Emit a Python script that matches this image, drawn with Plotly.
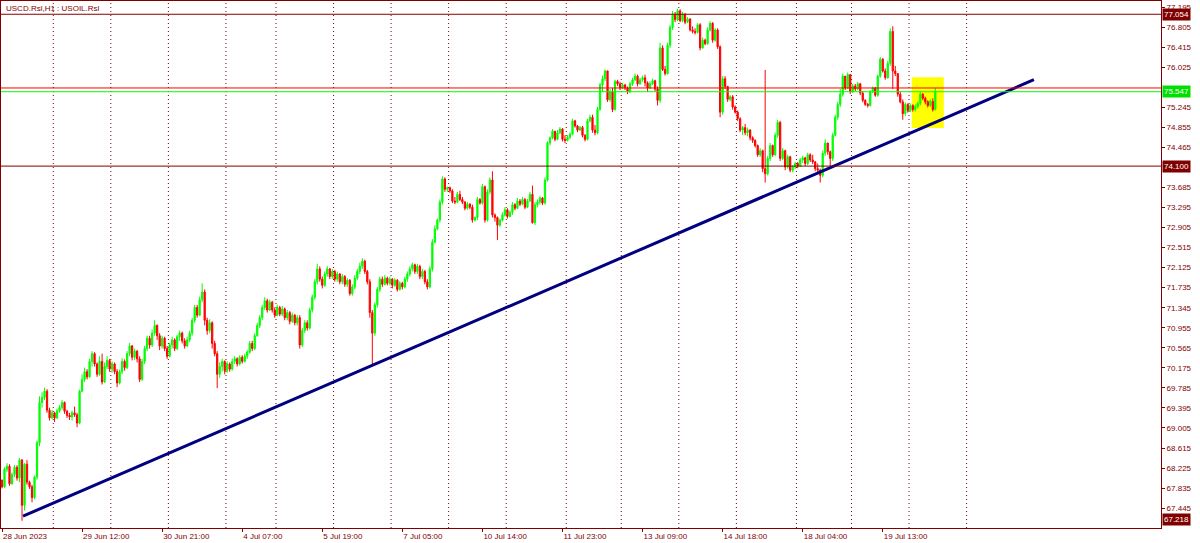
import plotly.graph_objects as go

# ---------------- data ----------------
first_open = 67.99
closes = [
    67.86, 68.20, 68.26, 67.92, 68.10, 68.24, 68.03, 68.38, 67.50, 68.30,
    67.95, 67.86, 67.65, 68.05, 68.72, 69.50, 69.60, 69.72, 69.35, 69.20,
    69.30, 69.20, 69.34, 69.40, 69.50, 69.33, 69.25, 69.22, 69.30, 69.26,
    69.10, 69.72, 69.95, 70.10, 70.00, 70.30, 70.45, 70.25, 70.05, 70.30,
    69.90, 70.20, 70.32, 70.15, 70.25, 70.10, 69.88, 70.10, 70.30, 70.18,
    70.45, 70.60, 70.38, 70.50, 70.35, 69.95, 70.30, 70.55, 70.75, 70.62,
    70.85, 71.00, 70.80, 70.60, 70.75, 70.55, 70.40, 70.62, 70.72, 70.55,
    70.78, 70.85, 70.70, 70.60, 70.72, 70.85, 71.10, 71.35, 71.20, 71.50,
    71.65, 71.10, 70.90, 71.05, 70.65, 70.45, 70.05, 70.20, 70.30, 70.12,
    70.25, 70.15, 70.30, 70.35, 70.25, 70.38, 70.30, 70.40, 70.48, 70.65,
    70.55, 70.80, 71.00, 71.15, 71.35, 71.48, 71.30, 71.45, 71.30, 71.20,
    71.35, 71.22, 71.32, 71.15, 71.25, 71.08, 71.20, 71.05, 71.15, 70.62,
    70.90, 71.05, 70.95, 71.30, 71.55, 71.85, 72.10, 71.90, 71.78, 72.00,
    72.10, 71.95, 72.05, 71.90, 72.00, 71.85, 71.95, 71.80, 71.88, 71.62,
    71.75, 71.92, 72.05, 72.15, 72.25, 72.05, 71.85, 71.25, 70.85, 71.40,
    71.70, 71.90, 71.80, 71.92, 71.82, 71.90, 71.78, 71.88, 71.70, 71.82,
    71.75, 71.90, 72.00, 72.10, 72.18, 72.05, 72.15, 71.95, 72.05, 71.85,
    71.75, 72.10, 72.62, 72.88, 73.05, 73.40, 73.85, 73.65, 73.68, 73.62,
    73.42, 73.40, 73.55, 73.45, 73.40, 73.28, 73.36, 73.30, 73.05, 73.10,
    73.45, 73.38, 73.70, 73.05, 73.60, 73.83, 73.15, 73.10, 72.95, 73.05,
    73.15, 73.25, 73.12, 73.20, 73.35, 73.28, 73.42, 73.36, 73.45, 73.30,
    73.42, 73.55, 73.00, 73.35, 73.40, 73.48, 73.38, 73.83, 74.55, 74.65,
    74.78, 74.62, 74.75, 74.82, 74.62, 74.60, 74.66, 74.72, 74.98, 74.88,
    74.80, 74.85, 74.70, 74.62, 74.98, 75.05, 74.80, 74.75, 75.20, 75.68,
    75.80, 75.95, 75.39, 75.55, 75.20, 75.75, 75.70, 75.62, 75.68, 75.62,
    75.55, 75.70, 75.78, 75.85, 75.70, 75.78, 75.82, 75.72, 75.62, 75.70,
    75.76, 75.60, 75.38, 76.40, 75.98, 75.90, 76.45, 76.80, 77.05, 76.95,
    77.12, 76.93, 77.05, 76.90, 76.96, 76.75, 76.72, 76.70, 76.85, 76.40,
    76.55, 76.48, 76.75, 76.88, 76.55, 76.75, 76.42, 75.15, 75.80, 75.65,
    75.40, 75.45, 75.25, 75.15, 75.02, 74.80, 74.85, 74.75, 74.80, 74.65,
    74.60, 74.50, 74.32, 74.40, 74.05, 73.95, 74.25, 74.50, 74.32, 74.70,
    74.95, 74.25, 74.40, 74.08, 74.28, 74.02, 74.08, 74.15, 74.10, 74.22,
    74.26, 74.15, 74.32, 74.22, 74.18, 74.05, 74.02, 73.92, 74.35, 74.55,
    74.38, 74.25, 74.70, 75.05, 75.30, 75.50, 75.85, 75.62, 75.88, 75.55,
    75.66, 75.60, 75.70, 75.52, 75.38, 75.30, 75.28, 75.55, 75.62, 75.48,
    75.85, 76.18, 75.95, 75.82, 76.10, 76.72, 75.95, 75.90, 75.50, 75.35,
    75.12, 75.30, 75.18, 75.28, 75.20, 75.26, 75.32, 75.50, 75.42, 75.35,
    75.28, 75.36, 75.20, 75.547,
]
highs = [
    68.00, 68.24, 68.32, 68.30, 68.14, 68.28, 68.28, 68.42, 68.40, 68.32,
    68.38, 67.98, 67.90, 68.08, 68.76, 69.62, 69.70, 69.79, 69.76, 69.40,
    69.36, 69.32, 69.38, 69.45, 69.55, 69.52, 69.36, 69.30, 69.34, 69.42,
    69.30, 69.75, 70.05, 70.18, 70.15, 70.35, 70.50, 70.48, 70.28, 70.40,
    70.45, 70.28, 70.40, 70.35, 70.30, 70.28, 70.15, 70.14, 70.36, 70.34,
    70.50, 70.66, 70.62, 70.55, 70.52, 70.40, 70.35, 70.60, 70.80, 70.80,
    70.92, 71.10, 71.02, 70.85, 70.80, 70.78, 70.60, 70.66, 70.78, 70.75,
    70.82, 70.90, 70.88, 70.75, 70.78, 70.90, 71.15, 71.40, 71.40, 71.56,
    71.82, 71.70, 71.15, 71.12, 71.08, 70.70, 70.50, 70.28, 70.35, 70.32,
    70.30, 70.28, 70.36, 70.40, 70.38, 70.42, 70.42, 70.45, 70.52, 70.70,
    70.70, 70.85, 71.05, 71.20, 71.40, 71.55, 71.52, 71.50, 71.48, 71.35,
    71.40, 71.38, 71.38, 71.35, 71.30, 71.28, 71.25, 71.22, 71.20, 71.20,
    70.95, 71.10, 71.10, 71.35, 71.60, 71.90, 72.20, 72.15, 71.95, 72.05,
    72.15, 72.12, 72.10, 72.08, 72.05, 72.02, 72.00, 71.98, 71.92, 71.90,
    71.80, 71.98, 72.10, 72.22, 72.31, 72.28, 72.08, 71.90, 71.30, 71.45,
    71.75, 71.95, 71.95, 71.98, 71.95, 71.95, 71.92, 71.92, 71.90, 71.86,
    71.85, 71.95, 72.05, 72.15, 72.22, 72.20, 72.20, 72.18, 72.10, 72.08,
    71.90, 72.15, 72.68, 72.95, 73.08, 73.45, 73.90, 73.88, 73.70, 73.70,
    73.65, 73.50, 73.60, 73.62, 73.50, 73.42, 73.40, 73.38, 73.35, 73.12,
    73.50, 73.48, 73.75, 73.72, 73.65, 73.88, 74.00, 73.18, 73.12, 73.08,
    73.20, 73.30, 73.28, 73.24, 73.40, 73.38, 73.48, 73.46, 73.50, 73.48,
    73.46, 73.60, 73.72, 73.40, 73.45, 73.52, 73.50, 73.88, 74.58, 74.68,
    74.82, 74.78, 74.80, 74.86, 74.84, 74.70, 74.70, 74.76, 75.02, 75.00,
    74.90, 74.88, 74.88, 74.72, 75.02, 75.10, 75.10, 74.90, 75.25, 75.72,
    75.86, 75.98, 75.96, 75.60, 75.62, 75.78, 75.78, 75.74, 75.72, 75.70,
    75.65, 75.74, 75.82, 75.90, 75.88, 75.82, 75.86, 75.88, 75.75, 75.75,
    75.80, 75.78, 75.65, 76.50, 76.45, 76.05, 76.50, 76.85, 77.12, 77.10,
    77.16, 77.15, 77.10, 77.08, 77.00, 76.98, 76.82, 76.78, 76.88, 76.88,
    76.60, 76.58, 76.80, 76.92, 76.90, 76.78, 76.78, 76.45, 75.85, 75.85,
    75.66, 75.48, 75.48, 75.28, 75.18, 75.05, 74.88, 74.92, 74.85, 74.82,
    74.68, 74.62, 74.52, 74.45, 74.42, 75.97, 74.30, 74.55, 74.52, 74.75,
    75.00, 74.98, 74.45, 74.42, 74.32, 74.30, 74.12, 74.18, 74.18, 74.26,
    74.30, 74.28, 74.36, 74.35, 74.32, 74.20, 74.15, 74.05, 74.40, 74.62,
    74.55, 74.40, 74.75, 75.10, 75.35, 75.60, 75.90, 75.85, 75.92, 75.88,
    75.70, 75.70, 75.74, 75.72, 75.56, 75.40, 75.33, 75.58, 75.65, 75.64,
    75.88, 76.22, 76.20, 76.00, 76.15, 76.78, 76.82, 76.05, 75.90, 75.55,
    75.40, 75.34, 75.32, 75.32, 75.30, 75.30, 75.36, 75.55, 75.52, 75.45,
    75.38, 75.40, 75.42, 75.62,
]
lows = [
    67.83, 67.84, 68.15, 67.88, 67.90, 68.05, 67.98, 67.95, 67.20, 67.40,
    67.90, 67.82, 67.56, 67.62, 68.00, 68.65, 69.40, 69.55, 69.30, 69.15,
    69.18, 69.12, 69.18, 69.30, 69.36, 69.28, 69.20, 69.16, 69.15, 69.22,
    69.02, 69.08, 69.70, 69.90, 69.95, 69.98, 70.20, 70.20, 70.00, 70.02,
    69.85, 69.88, 70.15, 70.10, 70.08, 70.05, 69.80, 69.85, 70.05, 70.12,
    70.15, 70.40, 70.32, 70.33, 70.28, 69.90, 69.92, 70.25, 70.50, 70.55,
    70.58, 70.80, 70.72, 70.52, 70.55, 70.50, 70.35, 70.38, 70.55, 70.50,
    70.52, 70.70, 70.65, 70.55, 70.58, 70.68, 70.80, 71.05, 71.15, 71.18,
    71.45, 71.00, 70.82, 70.85, 70.55, 70.40, 69.78, 69.98, 70.10, 70.05,
    70.08, 70.10, 70.12, 70.25, 70.20, 70.22, 70.26, 70.28, 70.35, 70.45,
    70.50, 70.52, 70.78, 70.95, 71.10, 71.30, 71.25, 71.28, 71.25, 71.15,
    71.18, 71.18, 71.18, 71.10, 71.10, 71.02, 71.05, 71.00, 71.00, 70.55,
    70.58, 70.85, 70.90, 70.92, 71.25, 71.50, 71.80, 71.85, 71.72, 71.75,
    71.95, 71.90, 71.90, 71.85, 71.85, 71.80, 71.80, 71.75, 71.75, 71.58,
    71.58, 71.70, 71.88, 72.00, 72.10, 72.00, 71.80, 71.15, 70.23, 70.80,
    71.35, 71.65, 71.75, 71.78, 71.78, 71.78, 71.72, 71.75, 71.66, 71.68,
    71.70, 71.72, 71.85, 71.95, 72.05, 72.00, 72.00, 71.90, 71.90, 71.80,
    71.70, 71.72, 72.05, 72.60, 72.85, 73.00, 73.35, 73.60, 73.60, 73.58,
    73.38, 73.36, 73.38, 73.42, 73.36, 73.24, 73.25, 73.26, 73.00, 73.02,
    73.05, 73.35, 73.35, 73.00, 73.02, 73.55, 73.10, 73.02, 72.66, 72.92,
    73.02, 73.12, 73.08, 73.10, 73.15, 73.24, 73.26, 73.32, 73.34, 73.26,
    73.28, 73.40, 72.98, 72.95, 73.30, 73.35, 73.34, 73.35, 73.80, 74.50,
    74.62, 74.58, 74.60, 74.72, 74.58, 74.55, 74.58, 74.62, 74.70, 74.85,
    74.76, 74.78, 74.66, 74.58, 74.60, 74.95, 74.75, 74.70, 74.72, 75.18,
    75.55, 75.75, 75.35, 75.35, 75.15, 75.18, 75.66, 75.58, 75.60, 75.58,
    75.50, 75.52, 75.66, 75.75, 75.65, 75.68, 75.74, 75.65, 75.55, 75.60,
    75.68, 75.55, 75.28, 75.33, 75.95, 75.86, 75.88, 76.40, 76.75, 76.90,
    76.92, 76.90, 76.90, 76.86, 76.88, 76.72, 76.68, 76.66, 76.68, 76.35,
    76.38, 76.45, 76.46, 76.72, 76.50, 76.52, 76.38, 75.05, 75.10, 75.60,
    75.35, 75.36, 75.20, 75.12, 74.98, 74.76, 74.70, 74.70, 74.68, 74.60,
    74.55, 74.46, 74.28, 74.28, 73.98, 73.78, 73.92, 74.20, 74.28, 74.30,
    74.65, 74.20, 74.22, 74.02, 74.05, 73.98, 73.98, 74.04, 74.06, 74.08,
    74.16, 74.10, 74.12, 74.18, 74.14, 74.00, 73.95, 73.78, 73.88, 74.30,
    74.32, 74.05, 74.20, 74.68, 75.00, 75.25, 75.45, 75.58, 75.60, 75.50,
    75.52, 75.56, 75.58, 75.48, 75.34, 75.27, 75.24, 75.26, 75.52, 75.45,
    75.45, 75.82, 75.92, 75.78, 75.80, 76.05, 75.60, 75.85, 75.45, 75.32,
    75.00, 75.08, 75.14, 75.15, 75.16, 75.16, 75.22, 75.28, 75.38, 75.30,
    75.24, 75.25, 75.16, 75.18,
]

# time-axis labels (H1 bars), placed every 32 bars
time_tick_bars = [0, 32, 64, 96, 128, 160, 192, 224, 256, 288, 320, 352]
time_tick_labels = ["28 Jun 2023", "29 Jun 12:00", "30 Jun 21:00", "4 Jul 07:00",
                    "5 Jul 19:00", "7 Jul 05:00", "10 Jul 14:00", "11 Jul 23:00",
                    "13 Jul 09:00", "14 Jul 18:00", "18 Jul 04:00", "19 Jul 13:00"]
# first bar of every trading day (period separators)
day_start_bars = [21, 44, 67, 90, 110, 133, 156, 179, 202, 226, 248, 271, 294, 318, 340, 363, 386]

# price scale labels (the ones hidden under the price boxes are left out)
price_ticks = [67.445, 67.835, 68.225, 68.615, 69.005, 69.395, 69.785, 70.175, 70.565,
               70.955, 71.345, 71.735, 72.125, 72.515, 72.905, 73.295, 73.685,
               74.465, 74.855, 75.245, 76.025, 76.415, 76.805, 77.195]

level_high = 77.054
level_support = 74.100
level_low = 67.218
bid_price = 75.547
ask_price = 75.62

trend_x = [8.4, 412.4]
trend_y = [67.29, 75.78]

box_x = [363.6, 376.4]
box_y = [74.84, 75.83]

title_text = "USCD.Rsl,H1 : USOIL.Rsl"

# ---------------- figure ----------------
n = min(len(closes), len(highs), len(lows))
closes, highs, lows = closes[:n], highs[:n], lows[:n]
opens = [first_open] + closes[:-1]
bars = list(range(n))

MAROON = "#800000"
FONT = "Liberation Sans"

fig = go.Figure()
fig.add_trace(go.Candlestick(
    x=bars, open=opens, high=highs, low=lows, close=closes,
    increasing=dict(line=dict(color="#00ff00", width=1), fillcolor="#00ff00"),
    decreasing=dict(line=dict(color="#ff0000", width=1), fillcolor="#ff0000"),
    whiskerwidth=0, hoverinfo="skip", showlegend=False,
))
fig.add_trace(go.Scatter(
    x=trend_x, y=trend_y, mode="lines",
    line=dict(color="#000080", width=3), hoverinfo="skip", showlegend=False,
))

shapes = []
shapes.append(dict(type="rect", xref="x", yref="y", x0=box_x[0], x1=box_x[1],
                   y0=box_y[0], y1=box_y[1], fillcolor="#ffff00",
                   line=dict(width=0), layer="below"))
for b in day_start_bars:
    shapes.append(dict(type="line", xref="x", yref="paper", x0=b - 0.5, x1=b - 0.5,
                       y0=0, y1=1, line=dict(color=MAROON, width=1, dash="1px,3px"),
                       layer="below"))
for lvl, col in [(level_high, MAROON), (level_support, MAROON),
                 (ask_price, "#ff0000"), (bid_price, "#00ff00")]:
    shapes.append(dict(type="line", xref="paper", yref="y", x0=0, x1=1, y0=lvl, y1=lvl,
                       line=dict(color=col, width=1), layer="above"))

annotations = []
for lvl, bg in [(level_high, MAROON), (level_support, MAROON),
                (bid_price, "#00e000"), (level_low, MAROON)]:
    annotations.append(dict(xref="paper", yref="y", x=1, y=lvl, xanchor="left",
                            yanchor="middle", xshift=1, text=f"{lvl:.3f}",
                            showarrow=False, bgcolor=bg, borderpad=1,
                            font=dict(family=FONT, size=8, color="white")))
annotations.append(dict(xref="paper", yref="paper", x=0, y=1, xanchor="left",
                        yanchor="top", xshift=3, yshift=-1, text=title_text,
                        showarrow=False, font=dict(family=FONT, size=8, color=MAROON)))

fig.update_layout(
    width=1200, height=543,
    margin=dict(l=1, r=39, t=1, b=15),
    paper_bgcolor="white", plot_bgcolor="white",
    showlegend=False, hovermode=False,
    shapes=shapes, annotations=annotations,
    font=dict(family=FONT, size=8, color=MAROON),
)
fig.update_xaxes(
    range=[-0.4, 463.2], showgrid=False, zeroline=False,
    rangeslider=dict(visible=False),
    tickmode="array", tickvals=time_tick_bars, ticktext=time_tick_labels,
    ticks="outside", ticklen=3, tickcolor=MAROON, ticklabelposition="outside right",
    ticklabelstandoff=0,
    tickfont=dict(family=FONT, size=8, color=MAROON),
    showline=True, linecolor=MAROON, linewidth=1, mirror=True,
)
fig.update_yaxes(
    range=[67.059, 77.312], side="right", showgrid=False, zeroline=False,
    tickmode="array", tickvals=price_ticks,
    ticktext=[f"{v:.3f}" for v in price_ticks],
    ticks="outside", ticklen=3, tickcolor=MAROON,
    tickfont=dict(family=FONT, size=8, color=MAROON),
    showline=True, linecolor=MAROON, linewidth=1, mirror=True,
)

fig.write_html(
    "out.html",
    config={"displayModeBar": False},
    post_script="document.body.style.margin='0';document.body.style.overflow='hidden';",
)
